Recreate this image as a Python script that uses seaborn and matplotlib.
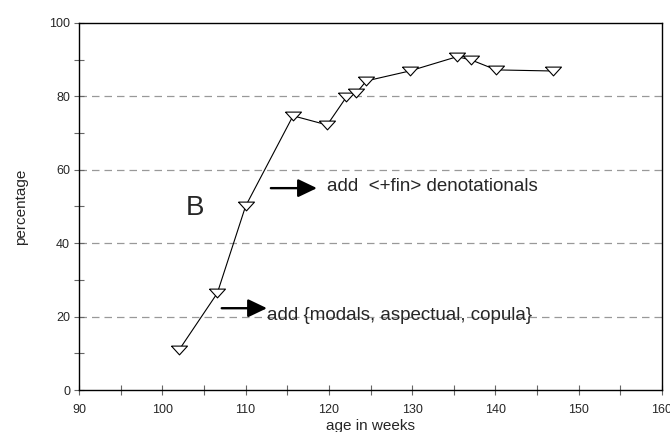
import matplotlib
matplotlib.use("Agg")
import matplotlib.pyplot as plt
import seaborn as sns
import pandas as pd
from matplotlib.ticker import MultipleLocator

# data
weeks = [102.0, 106.6, 110.0, 115.7, 119.8, 122.1, 123.3, 124.5, 129.7, 135.4, 137.1, 140.1, 146.9]
percent = [10.9, 26.4, 50.1, 74.7, 72.2, 79.8, 80.9, 84.2, 86.9, 90.8, 89.9, 87.2, 86.9]

sns.set_style("white")
plt.rcParams["font.family"] = ["Liberation Sans", "DejaVu Sans"]

df = pd.DataFrame({"age in weeks": weeks, "percentage": percent})

# wide, flat down-pointing triangle like the original
tri = [(-1, 0.55), (1, 0.55), (0, -0.55), (-1, 0.55)]

fig = plt.figure(figsize=(6.7, 4.32), dpi=100)
ax = fig.add_axes([0.118, 0.097, 0.870, 0.850])

sns.lineplot(
    data=df, x="age in weeks", y="percentage", ax=ax,
    color="black", linewidth=0.8, marker=tri, markersize=11.5,
    markerfacecolor="white", markeredgecolor="black", markeredgewidth=0.8,
)

ax.set_xlim(90, 160)
ax.set_ylim(0, 100)
ax.xaxis.set_major_locator(MultipleLocator(10))
ax.xaxis.set_minor_locator(MultipleLocator(5))
ax.yaxis.set_major_locator(MultipleLocator(20))
ax.yaxis.set_minor_locator(MultipleLocator(10))
ax.tick_params(which="both", direction="inout", length=7, width=0.8, color="#666666",
               labelsize=9)
ax.tick_params(axis="x", which="both", bottom=True, pad=6.5)
ax.tick_params(axis="y", which="both", left=True, pad=3)

for s in ax.spines.values():
    s.set_color("black")
    s.set_linewidth(1.0)

for yv in [20, 40, 60, 80]:
    ax.axhline(yv, color="#999999", linestyle=(0, (6, 4)), linewidth=0.9, zorder=0)

ax.set_xlabel("age in weeks", fontsize=11, labelpad=2)
ax.set_ylabel("percentage", fontsize=11, labelpad=15)

ax.text(103.9, 49.5, "B", fontsize=20, ha="center", va="center")
arrow = dict(arrowstyle="-|>,head_length=1.15,head_width=0.55", color="black", lw=1.7)
ax.annotate("", xy=(118.9, 55), xytext=(112.7, 55), arrowprops=arrow)
ax.text(119.8, 55.5, "add  <+fin> denotationals", fontsize=13.5, va="center")
ax.annotate("", xy=(112.9, 22.3), xytext=(106.8, 22.3), arrowprops=arrow)
ax.text(112.6, 20.3, "add {modals, aspectual, copula}", fontsize=13.5, va="center")

fig.savefig("out.png", dpi=100)
